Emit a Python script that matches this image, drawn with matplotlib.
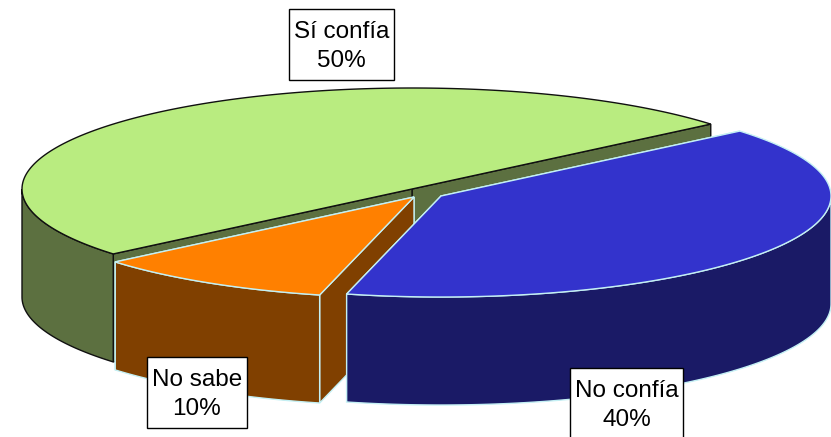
import matplotlib
matplotlib.use("Agg")
import matplotlib.pyplot as plt
import numpy as np

labels = ["Sí confía", "No sabe", "No confía"]
values = [50, 10, 40]

# look of each slice, same order as the values
centers = [(412, 189), (414, 197), (441, 196)]
top_colors = ["#b9ec80", "#ff8000", "#3333cc"]
side_colors = ["#5c7040", "#804000", "#1a1a66"]
edge_colors = ["#101010", "#c4f0f4", "#c4f0f4"]
label_boxes = [(289, 9, 394, 80), (147, 357, 247, 428), (570, 368, 683, 445)]

rx = 390
ry = 101
depth = 108
start = 40  # degrees, slices go counter clockwise from here

plt.rcParams["font.family"] = ["Liberation Sans", "DejaVu Sans"]

fig = plt.figure(figsize=(8.31, 4.37), dpi=100)
ax = fig.add_axes([0, 0, 1, 1])
ax.set_xlim(0, 831)
ax.set_ylim(437, 0)
ax.axis("off")

# angle range of each slice, worked out from the values
total = sum(values)
ranges = []
a = start
for v in values:
    b = a + 360.0 * v / total
    ranges.append((a, b))
    a = b


def rim(c, a0, a1):
    t = np.radians(np.linspace(a0, a1, 200))
    return c[0] + rx * np.cos(t), c[1] - ry * np.sin(t)


def draw_slice(i):
    c = centers[i]
    a0, a1 = ranges[i]
    side = side_colors[i]
    edge = edge_colors[i]
    lw = 1.0

    # cut faces going down from the center
    for ang in (a0, a1):
        x, y = rim(c, ang, ang)
        px = [c[0], x[0], x[0], c[0]]
        py = [c[1], y[0], y[0] + depth, c[1] + depth]
        ax.fill(px, py, facecolor=side, edgecolor=edge, linewidth=lw)

    # outer wall, only the part turned to the viewer (180 to 360)
    w0 = max(a0, 180)
    w1 = min(a1, 360)
    if w1 > w0:
        x, y = rim(c, w0, w1)
        px = np.concatenate([x, x[::-1]])
        py = np.concatenate([y, y[::-1] + depth])
        ax.fill(px, py, facecolor=side, edgecolor=edge, linewidth=lw)

    # top
    x, y = rim(c, a0, a1)
    px = np.concatenate([[c[0]], x])
    py = np.concatenate([[c[1]], y])
    ax.fill(px, py, facecolor=top_colors[i], edgecolor=edge, linewidth=lw)


# back to front
for i in [0, 1, 2]:
    draw_slice(i)

for i in range(len(labels)):
    x0, y0, x1, y1 = label_boxes[i]
    ax.fill([x0, x1, x1, x0], [y0, y0, y1, y1], facecolor="white",
            edgecolor="black", linewidth=1.0, zorder=5)
    ax.text((x0 + x1) / 2, y0 + 37.5, labels[i] + "\n" + str(values[i]) + "%",
            ha="center", va="center", fontsize=17.5, color="black",
            linespacing=1.45, zorder=6)

plt.savefig("out.png", dpi=100)
